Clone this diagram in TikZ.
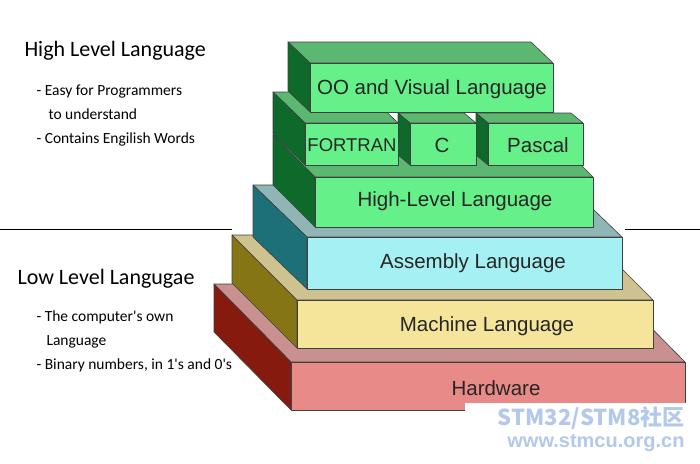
\documentclass[tikz,border=0pt]{standalone}
\usepackage{fontspec}
\setmainfont{Liberation Sans}
\newfontfamily\carl{Carlito}
\newfontfamily\cjkf{Noto Sans CJK SC}
\begin{document}
\begin{tikzpicture}[x=1pt,y=-1pt,
  edge/.style={draw=black!75,line width=0.6pt,line join=round},
  lbl/.style={font=\fontsize{20.5}{20}\selectfont,text=black!85},
  side/.style={font=\carl\fontsize{15.5}{24}\selectfont,align=left,anchor=north west}]
\useasboundingbox (0,0) rectangle (700,463);
\fill[white] (0,0) rectangle (700,463);
\newcommand\blk[9]{%
  \fill[#8,edge] (#1+#5,#2+#6) -- (#3+#5,#2+#6) -- (#3,#2) -- (#1,#2) -- cycle;
  \fill[#9,edge] (#1+#5,#2+#6) -- (#1,#2) -- (#1,#4) -- (#1+#5,#4+#6) -- cycle;
  \fill[#7,edge] (#1,#2) rectangle (#3,#4);}
\definecolor{hwF}{HTML}{E88A88}\definecolor{hwT}{HTML}{C99090}\definecolor{hwS}{HTML}{861A0E}
\definecolor{mlF}{HTML}{F5E59A}\definecolor{mlT}{HTML}{CDC290}\definecolor{mlS}{HTML}{857515}
\definecolor{asF}{HTML}{A5F0F2}\definecolor{asT}{HTML}{8FB5B5}\definecolor{asS}{HTML}{1E7078}
\definecolor{gF}{HTML}{66F08A}\definecolor{gT}{HTML}{5CB870}\definecolor{gS}{HTML}{0E6A2A}
\blk{291}{362}{685}{410}{-77}{-78}{hwF}{hwT}{hwS}
\blk{297}{300}{653}{348}{-65}{-65}{mlF}{mlT}{mlS}
\blk{307}{237}{622}{289}{-54}{-52}{asF}{asT}{asS}
\blk{315}{177}{593}{227}{-42}{-42}{gF}{gT}{gS}
\blk{488}{123}{583}{165}{-12}{-10}{gF}{gT}{gS}
\blk{410}{123}{476}{165}{-12}{-10}{gF}{gT}{gS}
\blk{305}{123}{398}{165}{-32}{-31}{gF}{gT}{gS}
\blk{310}{63}{553}{112}{-22}{-21}{gF}{gT}{gS}
\node[lbl] (hw) at (496,388) {Hardware};
\node[lbl] (ml) at (487,326) {Machine Language};
\node[lbl] (as) at (473,263) {Assembly Language};
\node[lbl] (hl) at (455,201) {High-Level Language};
\node[lbl,font=\fontsize{18.5}{18}\selectfont] (ft) at (352,145) {FORTRAN};
\node[lbl] (c) at (442,145) {C};
\node[lbl] (pa) at (538,145) {Pascal};
\node[lbl] (oo) at (432,89) {OO and Visual Language};
\coordinate (l1) at (0,229); \coordinate (l2) at (232,229);
\coordinate (r1) at (625,229); \coordinate (r2) at (700,229);
\draw[line width=0.8pt] (l1) -- (l2); \draw[line width=0.8pt] (r1) -- (r2);
\node[side,font=\carl\fontsize{22}{22}\selectfont] (hh) at (21,38) {High Level Language};
\node[side] (hb) at (33,81) {- Easy for Programmers\\\hspace*{12pt}to understand\\- Contains Engilish Words};
\node[side,font=\carl\fontsize{22}{22}\selectfont] (lh) at (14,266) {Low Level Langugae};
\node[side] (lb) at (33,307) {- The computer's own\\\hspace*{10pt}Language\\- Binary numbers, in 1's and 0's};
\fill[white] (465,403) rectangle (700,463);
\node[font=\cjkf\bfseries\fontsize{22}{22}\selectfont,text=cyan!55!blue!30,anchor=east] (wm1) at (688,418) {STM32/STM8社区};
\node[font=\bfseries\fontsize{20}{20}\selectfont,text=cyan!55!blue!30,anchor=east] (wm2) at (688,443) {www.stmcu.org.cn};
\end{tikzpicture}
\end{document}
